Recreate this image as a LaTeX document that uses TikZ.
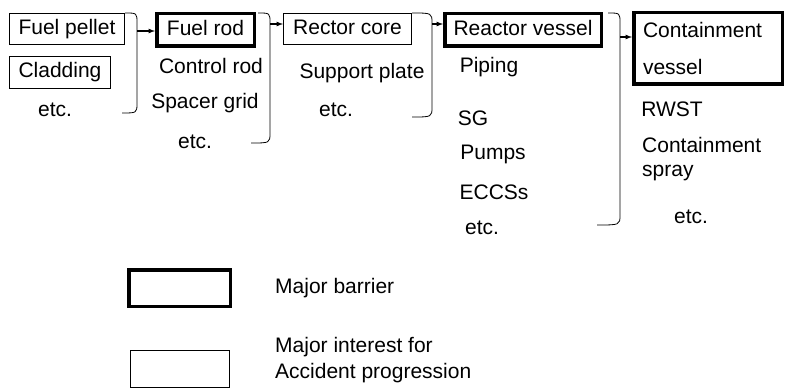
\documentclass[tikz,border=0pt]{standalone}
\usepackage{fontspec}
\setmainfont{Liberation Sans}
\usetikzlibrary{arrows}

\begin{document}
\begin{tikzpicture}[x=1pt, y=-1pt,
  every node/.style={font=\fontsize{21}{25}\selectfont, inner sep=0pt},
  part/.style={draw, line width=1pt, minimum width=#1, minimum height=31,
               text height=15, text depth=4},
  barrier/.style={draw, line width=3.5pt, minimum width=#1, minimum height=32.5,
                  text height=15, text depth=4},
  brace/.style={line width=0.8pt},
  flow/.style={-latex, line width=1.2pt}]

  \useasboundingbox (0,0) rectangle (786,390);

  % stage 1
  \node[part=115] (pellet)   at (67,  29)   {Fuel pellet};
  \node[part=101, minimum height=32] (cladding) at (60, 72.5) {Cladding};
  \node (etc1) at (55, 110) {etc.};

  % stage 2
  \node[barrier=97.5] (rod) at (205.5, 30) {Fuel rod};
  \node (ctrlrod) at (211,  66) {Control rod};
  \node (spacer)  at (205, 103) {Spacer grid};
  \node (etc2)    at (195, 142) {etc.};

  % stage 3
  \node[part=128] (core) at (347.5, 29) {Rector core};
  \node (plate) at (362,  73) {Support plate};
  \node (etc3)  at (336, 110) {etc.};

  % stage 4
  \node[barrier=156.5] (rv) at (523, 30) {Reactor vessel};
  \node (piping) at (489,  67) {Piping};
  \node (sg)     at (473, 118) {SG};
  \node (pumps)  at (493, 154) {Pumps};
  \node (eccs)   at (494, 192) {ECCSs};
  \node (etc4)   at (482, 228) {etc.};

  % stage 5
  \node[draw, line width=3.5pt, minimum width=148.5, minimum height=71.5,
        text width=130, align=left] (cv) at (708, 48.5)
       {Containment\\[12pt]vessel};
  \node (rwst) at (672, 109) {RWST};
  \node[anchor=west, align=left, font=\fontsize{21}{24}\selectfont]
       (spray) at (642, 159) {Containment\\spray};
  \node (etc5) at (691, 217) {etc.};

  % braces
  \draw[brace] (125,13) .. controls (137,13) .. (137,23) -- (137,103)
               .. controls (137,113) .. (122,113);
  \draw[brace] (258,13) .. controls (270,13) .. (270,23) -- (270,133)
               .. controls (270,143) .. (251,143);
  \draw[brace] (412,13) .. controls (432,13) .. (432,23) -- (432,107)
               .. controls (432,117) .. (412,117);
  \draw[brace] (608,13) .. controls (620,13) .. (620,23) -- (620,215)
               .. controls (620,225) .. (597,225);

  \coordinate (b1) at (137,31);
  \coordinate (b2) at (270,24);
  \coordinate (b3) at (432,24);
  \coordinate (b4) at (620,37);

  \draw[flow] (b1) -- (b1 -| rod.west);
  \draw[flow] (b2) -- (b2 -| core.west);
  \draw[flow] (b3) -- (b3 -| rv.west);
  \draw[flow] (b4) -- (b4 -| cv.west);

  % legend
  \node[draw, line width=3.5pt, minimum width=101.5, minimum height=36.5]
       (keybarrier) at (179.5, 288) {};
  \node[draw, line width=1pt, minimum width=99, minimum height=37]
       (keyinterest) at (180, 369) {};
  \node[anchor=west] (barriertext) at (275, 288) {Major barrier};
  \node[anchor=west, align=left, font=\fontsize{21}{26}\selectfont]
       (interesttext) at (275, 360) {Major interest for\\Accident progression};

\end{tikzpicture}
\end{document}
